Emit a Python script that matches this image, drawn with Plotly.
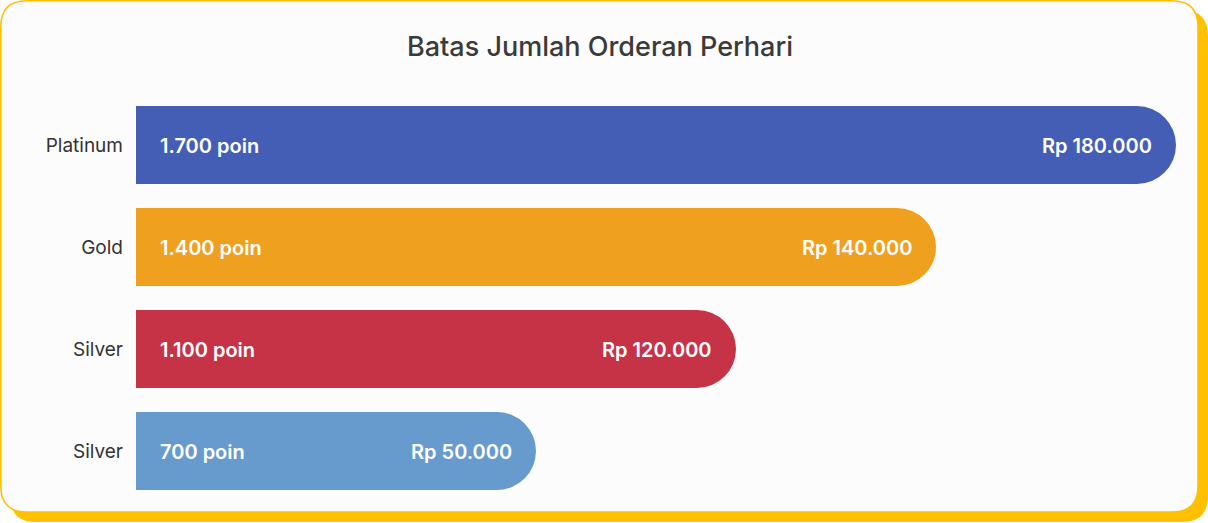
import plotly.graph_objects as go

# ---- data ----
categories = ["Platinum", "Gold", "Silver", "Silver"]
bar_length = [104, 80, 60, 40]          # visual bar lengths (relative)
points_labels = ["1.700 poin", "1.400 poin", "1.100 poin", "700 poin"]
price_labels = ["Rp 180.000", "Rp 140.000", "Rp 120.000", "Rp 50.000"]
bar_colors = ["#455EB5", "#F0A01F", "#C63346", "#679BCE"]
title_text = "Batas Jumlah Orderan Perhari"

W, H = 1208, 523
L, R, T, B = 136, 32, 94, 21
PW, PH = W - L - R, H - T - B

positions = list(range(len(categories)))

fig = go.Figure()
fig.add_trace(go.Bar(
    y=positions, x=bar_length, orientation="h",
    marker=dict(color=bar_colors, cornerradius="50%", line=dict(width=0)),
    width=0.765, hoverinfo="skip",
))

font_family = "Inter, 'Noto Sans', sans-serif"
ann = []
for i, (v, pl, pr) in enumerate(zip(bar_length, points_labels, price_labels)):
    ann.append(dict(x=0, y=i, xref="x", yref="y", text=pl, showarrow=False,
                    xanchor="left", xshift=22, yshift=-1,
                    font=dict(family=font_family, size=20, color="white", weight=600)))
    ann.append(dict(x=v, y=i, xref="x", yref="y", text=pr, showarrow=False,
                    xanchor="right", xshift=-22, yshift=-1,
                    font=dict(family=font_family, size=20, color="white", weight=600)))


def px2paper(px, py):
    return (px - L) / PW, (H - B - py) / PH


def rounded_rect(x0, y0, x1, y1, r):
    def P(x, y):
        a, b = px2paper(x, y)
        return f"{a:.6f},{b:.6f}"
    return (f"M {P(x0 + r, y0)} L {P(x1 - r, y0)} Q {P(x1, y0)} {P(x1, y0 + r)} "
            f"L {P(x1, y1 - r)} Q {P(x1, y1)} {P(x1 - r, y1)} "
            f"L {P(x0 + r, y1)} Q {P(x0, y1)} {P(x0, y1 - r)} "
            f"L {P(x0, y0 + r)} Q {P(x0, y0)} {P(x0 + r, y0)} Z")


shapes = [
    dict(type="path", xref="paper", yref="paper", layer="below",
         path=rounded_rect(10, 10, 1208, 522, 26),
         fillcolor="#FFC000", line=dict(width=0)),
    dict(type="path", xref="paper", yref="paper", layer="below",
         path=rounded_rect(0.8, 0.8, 1198, 512, 26),
         fillcolor="#FCFCFC", line=dict(color="#FFC000", width=1.6)),
]

fig.update_layout(
    width=W, height=H,
    margin=dict(l=L, r=R, t=T, b=B),
    paper_bgcolor="white", plot_bgcolor="rgba(0,0,0,0)",
    showlegend=False,
    title=dict(text=title_text, x=600 / W, xref="container", xanchor="center",
               y=1 - 47 / H, yref="container", yanchor="middle",
               font=dict(family=font_family, size=27, color="#3A3A3A", weight=500)),
    xaxis=dict(range=[0, 104], visible=False, fixedrange=True),
    yaxis=dict(range=[3.5, -0.5], tickvals=positions, ticktext=categories,
               showgrid=False, zeroline=False, showline=False, ticks="",
               ticklabelstandoff=12,
               tickfont=dict(family=font_family, size=19, color="#333333")),
    annotations=ann, shapes=shapes,
)

fig.write_html("out.html")
